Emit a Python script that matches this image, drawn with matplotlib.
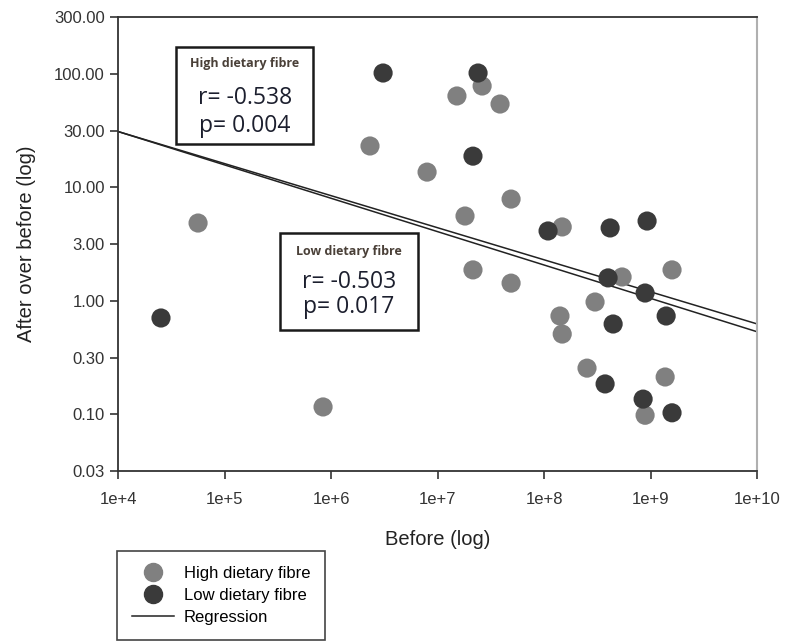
import numpy as np
import matplotlib.pyplot as plt
from matplotlib.lines import Line2D
from matplotlib.patches import Rectangle

plt.rcParams['font.family'] = ['Liberation Sans', 'DejaVu Sans']

# High dietary fibre group
high_before = [5.64e4, 2.32e6, 7.97e6, 1.52e7, 2.62e7, 3.86e7, 1.81e7, 4.90e7, 1.48e8, 2.15e7,
               4.90e7, 5.40e8, 1.59e9, 3.01e8, 1.41e8, 1.48e8, 2.53e8, 1.37e9, 8.88e8, 8.41e5]
high_ratio = [4.84, 23.1, 13.6, 63.7, 78.0, 54.1, 5.58, 7.87, 4.47, 1.87,
              1.43, 1.62, 1.87, 0.975, 0.734, 0.509, 0.255, 0.213, 0.098, 0.116]

# Low dietary fibre group
low_before = [2.53e4, 3.08e6, 2.40e7, 2.15e7, 1.09e8, 4.17e8, 9.27e8, 3.99e8, 8.88e8, 1.40e9,
              4.45e8, 3.74e8, 8.51e8, 1.59e9]
low_ratio = [0.705, 101.5, 101.5, 18.8, 4.12, 4.38, 5.04, 1.59, 1.17, 0.734,
             0.624, 0.185, 0.136, 0.103]

# regression lines: log10(y) = a + b * log10(x)
reg_high = (2.621, -0.2825)
reg_low = (2.667, -0.294)

y_ticks = [0.03, 0.10, 0.30, 1.00, 3.00, 10.00, 30.00, 100.00, 300.00]
y_tick_pos = [10 ** (k / 2) for k in range(-3, 6)]
x_ticks = [1e4, 1e5, 1e6, 1e7, 1e8, 1e9, 1e10]
x_tick_labels = ['1e+4', '1e+5', '1e+6', '1e+7', '1e+8', '1e+9', '1e+10']

c_high = '#808080'
c_low = '#3a3a3a'

fig = plt.figure(figsize=(7.87, 6.44), dpi=100)
ax = fig.add_axes([0.150, 0.2686, 0.812, 0.705])
ax.set_xscale('log')
ax.set_yscale('log')

xr = np.array([1e4, 1e10])
for a, b in [reg_high, reg_low]:
    ax.plot(xr, 10 ** (a + b * np.log10(xr)), color='#222222', lw=1.1, zorder=2)

ax.scatter(high_before, high_ratio, s=190, color=c_high, edgecolors='none', zorder=3)
ax.scatter(low_before, low_ratio, s=190, color=c_low, edgecolors='none', zorder=3)

ax.set_xlim(1e4, 1e10)
ax.set_ylim(10 ** -1.5, 10 ** 2.5)
ax.set_xticks(x_ticks)
ax.set_xticklabels(x_tick_labels)
ax.set_yticks(y_tick_pos)
ax.set_yticklabels(['%.2f' % v for v in y_ticks])
ax.minorticks_off()
ax.tick_params(axis='both', labelsize=12, colors='#333333', length=6, width=1.2, direction='out')
ax.tick_params(axis='x', pad=9)

for s in ['left', 'bottom', 'top']:
    ax.spines[s].set_color('#333333')
    ax.spines[s].set_linewidth(1.3)
ax.spines['right'].set_color('#b0b0b0')
ax.spines['right'].set_linewidth(1.5)

ax.set_xlabel('Before (log)', fontsize=14.5, color='#222222', labelpad=17)
ax.set_ylabel('After over before (log)', fontsize=14.5, color='#222222', labelpad=13)

# annotation boxes
boxes = [
    ((0.091, 0.720), 0.214, 0.214, 'High dietary fibre', 'r= -0.538', 'p= 0.004', (0.898, 0.822, 0.760)),
    ((0.2535, 0.311), 0.2155, 0.213, 'Low dietary fibre', 'r= -0.503', 'p= 0.017', (0.484, 0.417, 0.362)),
]
for (x0, y0), w, h, title, rtxt, ptxt, ys in boxes:
    ax.add_patch(Rectangle((x0, y0), w, h, transform=ax.transAxes, facecolor='white',
                           edgecolor='#1a1a1a', lw=1.8, zorder=4))
    cx = x0 + w / 2
    ax.text(cx, ys[0], title, transform=ax.transAxes, ha='center', va='center',
            fontsize=9, fontweight='bold', family='Open Sans', color='#4a4038', zorder=5)
    ax.text(cx, ys[1], rtxt, transform=ax.transAxes, ha='center', va='center',
            fontsize=16.5, family='Open Sans', color='#1c1f2e', zorder=5)
    ax.text(cx, ys[2], ptxt, transform=ax.transAxes, ha='center', va='center',
            fontsize=16.5, family='Open Sans', color='#1c1f2e', zorder=5)

handles = [
    Line2D([], [], marker='o', ls='none', color=c_high, markersize=13),
    Line2D([], [], marker='o', ls='none', color=c_low, markersize=13),
    Line2D([], [], color='#222222', lw=1.1),
]
leg = fig.legend(handles, ['High dietary fibre', 'Low dietary fibre', 'Regression'],
                 loc='upper left', bbox_to_anchor=(0.149, 0.1444), fontsize=12,
                 frameon=True, fancybox=False, edgecolor='#444444', framealpha=1,
                 handlelength=2.5, handletextpad=0.6, labelspacing=0.42,
                 borderpad=0.9, borderaxespad=0)
leg.get_frame().set_linewidth(1.2)

fig.savefig('out.png', dpi=100)
